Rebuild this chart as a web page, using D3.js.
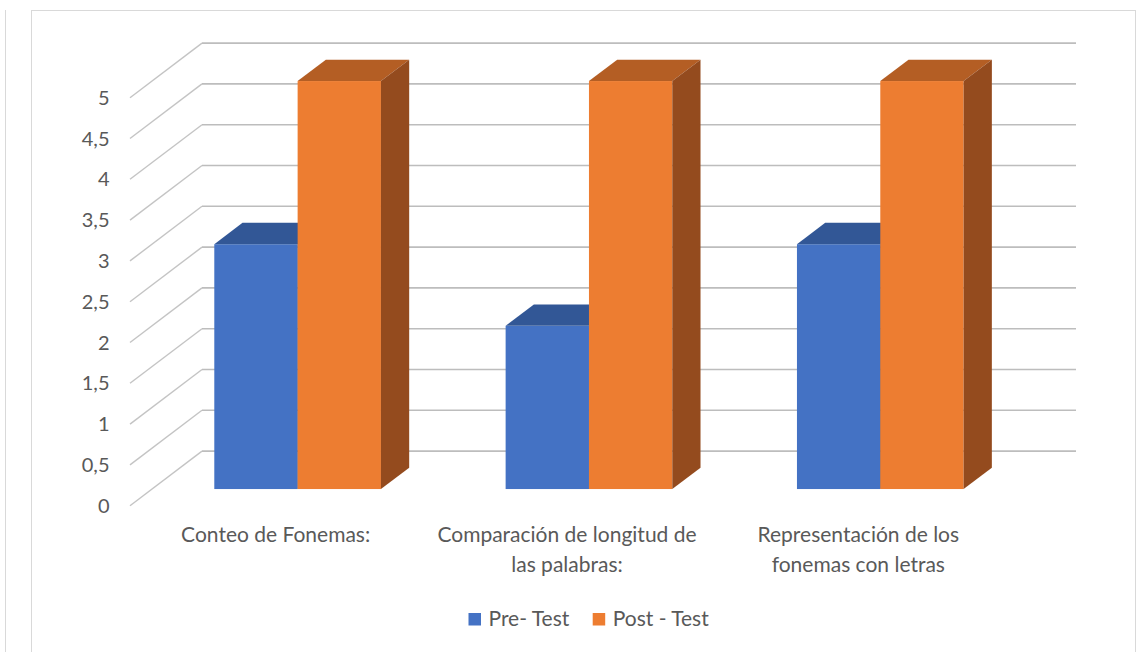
<!DOCTYPE html>
<html>
<head>
<meta charset="utf-8">
<script src="https://cdn.jsdelivr.net/npm/d3@7"></script>
<style>
  html, body { margin: 0; padding: 0; background: #ffffff; }
  svg { display: block; }
  text { font-family: Lato, "Open Sans", sans-serif; fill: #595959; }
</style>
</head>
<body>
<svg id="chart" width="1139" height="652"></svg>
<script>
// ---------- data ----------
const categories = [
  "Conteo de Fonemas:",
  "Comparación de longitud de las palabras:",
  "Representación de los fonemas con letras"
];
const categoryLines = [
  ["Conteo de Fonemas:"],
  ["Comparación de longitud de", "las palabras:"],
  ["Representación de los", "fonemas con letras"]
];
const series = ["Pre- Test", "Post - Test"];
const preTest  = [3, 2, 3];
const postTest = [5, 5, 5];
const yTicks = [0, 0.5, 1, 1.5, 2, 2.5, 3, 3.5, 4, 4.5, 5];
const yTickLabels = ["0", "0,5", "1", "1,5", "2", "2,5", "3", "3,5", "4", "4,5", "5"];

// ---------- styles ----------
const colors = {
  "Pre- Test":   { front: "#4472C4", top: "#325796", side: "#2B4C80" },
  "Post - Test": { front: "#ED7D31", top: "#B45E24", side: "#944B1E" }
};

const svg = d3.select("#chart");

// frame borders
svg.append("line").attr("x1", 5.5).attr("y1", 10).attr("x2", 5.5).attr("y2", 652)
  .attr("stroke", "#D9D9D9").attr("stroke-width", 1);
svg.append("rect").attr("x", 31.5).attr("y", 10.5).attr("width", 1104).attr("height", 660)
  .attr("fill", "none").attr("stroke", "#D9D9D9").attr("stroke-width", 1);

// ---------- 3D projection ----------
const DX = 72, DY = -54.6;           // front-to-back depth offset
const x0 = d3.scaleBand().domain(categories).range([130, 1004]);
const x1 = d3.scaleBand().domain(series).range([0, x0.bandwidth()]).paddingOuter(0.748).paddingInner(0);
const y = d3.scaleLinear().domain([0, 5]).range([505.7, 97.7]);   // front edge of floor
const d0 = 0.305, d1 = 0.697;        // bar front / back planes (fraction of depth)
const P = (x, v, d) => [x + d * DX, y(v) + d * DY];

// gridlines
const grid = svg.append("g");
yTicks.forEach(t => {
  const a = P(130, t, 0), b = P(130, t, 1), c = P(1004, t, 1);
  grid.append("line").attr("x1", a[0]).attr("y1", a[1]).attr("x2", b[0]).attr("y2", b[1])
    .attr("stroke", "#C4C4C4").attr("stroke-width", 1.4);
  grid.append("line").attr("x1", b[0]).attr("y1", b[1]).attr("x2", c[0]).attr("y2", c[1])
    .attr("stroke", "#BDBDBD").attr("stroke-width", 1.6);
});

// y labels
svg.append("g").selectAll("text").data(yTicks)
  .join("text")
  .attr("x", 109.5)
  .attr("y", t => y(t) + 7)
  .attr("text-anchor", "end")
  .attr("font-size", 20)
  .text((t, i) => yTickLabels[i]);

// bars
const rows = categories.map((c, i) => ({ cat: c, values: [
  { s: series[0], v: preTest[i] }, { s: series[1], v: postTest[i] }
]}));
const poly = pts => pts.map(p => p.join(",")).join(" ");
const bars = svg.append("g");
rows.forEach(r => {
  r.values.forEach(b => {
    const xl = x0(r.cat) + x1(b.s), xr = xl + x1.bandwidth();
    const col = colors[b.s];
    const g = bars.append("g");
    const f0 = P(xl, b.v, d0), f1 = P(xr, 0, d0);
    g.append("rect").attr("x", f0[0]).attr("y", f0[1])
      .attr("width", f1[0] - f0[0]).attr("height", f1[1] - f0[1]).attr("fill", col.front);
    g.append("polygon").attr("points", poly([P(xl, b.v, d0), P(xr, b.v, d0), P(xr, b.v, d1), P(xl, b.v, d1)]))
      .attr("fill", col.top);
    g.append("polygon").attr("points", poly([P(xr, 0, d0), P(xr, b.v, d0), P(xr, b.v, d1), P(xr, 0, d1)]))
      .attr("fill", col.side);
  });
});

// category labels
const lab = svg.append("g");
categories.forEach((c, i) => {
  const cx = x0(c) + x0.bandwidth() / 2;
  categoryLines[i].forEach((ln, j) => {
    lab.append("text").attr("x", cx).attr("y", 541.5 + j * 30)
      .attr("text-anchor", "middle").attr("font-size", 21).text(ln);
  });
});

// legend
const legend = svg.append("g");
const legX = [468.5, 592.7];
series.forEach((s, i) => {
  legend.append("rect").attr("x", legX[i]).attr("y", 613).attr("width", 12.5).attr("height", 12.5)
    .attr("fill", colors[s].front);
  legend.append("text").attr("x", legX[i] + 20).attr("y", 626).attr("font-size", 21).text(s);
});
</script>
</body>
</html>
